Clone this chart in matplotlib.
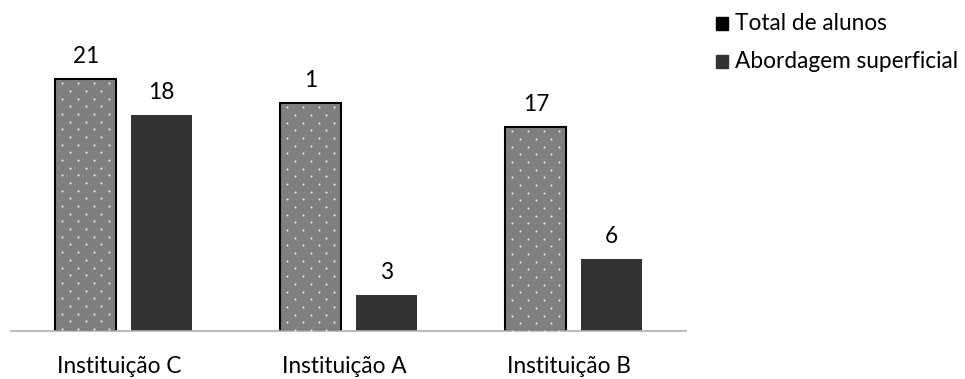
import numpy as np
import matplotlib.pyplot as plt
from matplotlib.patches import Rectangle

plt.rcParams['font.family'] = ['Lato', 'DejaVu Sans']

institutions = ['Instituição C', 'Instituição A', 'Instituição B']
total_alunos = [21, 19, 17]
total_labels = ['21', '1', '17']
abordagem = [18, 3, 6]
abordagem_labels = ['18', '3', '6']

fs = 16.3

fig = plt.figure(figsize=(9.65, 3.79), dpi=100)
ax = fig.add_axes([11/965, 48/379, 675/965, 300/379])

x = np.arange(len(institutions))
w = 0.272
gap = 0.0625
off = (w + gap) / 2

bars_t = ax.bar(x - off, total_alunos, w, color='#7f7f7f', edgecolor='black', linewidth=1.5, zorder=2)
bars_a = ax.bar(x + off, abordagem, w, color='#333333', linewidth=0, zorder=2)

# dotted texture on the total bars (staggered grid of small white dots)
dx, dy = 0.07, 0.64
for b in bars_t:
    x0, h = b.get_x(), b.get_height()
    ys = np.arange(h - 0.35, 0, -dy)
    px, py = [], []
    for k, yy in enumerate(ys):
        start = x0 + 0.03 + (dx / 2 if k % 2 else 0)
        xs = np.arange(start, x0 + w, dx)
        px.extend(xs)
        py.extend([yy] * len(xs))
    sc = ax.scatter(px, py, s=2.2, color='#ececec', linewidths=0, zorder=3)
    sc.set_clip_path(b)

for b, lab in zip(bars_t, total_labels):
    ax.annotate(lab, (b.get_x() + b.get_width() / 2, b.get_height()), xytext=(0, 11.5),
                textcoords='offset points', ha='center', va='baseline', fontsize=fs, color='black')
for b, lab in zip(bars_a, abordagem_labels):
    ax.annotate(lab, (b.get_x() + b.get_width() / 2, b.get_height()), xytext=(0, 11.5),
                textcoords='offset points', ha='center', va='baseline', fontsize=fs, color='black')

for i, name in enumerate(institutions):
    ax.annotate(name, (i - 0.02, 0), xycoords=('data', 'axes fraction'), xytext=(0, -30.5),
                textcoords='offset points', ha='center', va='baseline', fontsize=fs, color='black')

ax.set_xlim(-0.5, 2.5)
ax.set_ylim(0, 25)
ax.set_xticks([])
ax.set_yticks([])
for s in ['top', 'right', 'left']:
    ax.spines[s].set_visible(False)
ax.spines['bottom'].set_color('#b0b0b0')
ax.spines['bottom'].set_linewidth(1.2)

# legend
leg_items = [('Total de alunos', 'black', 30), ('Abordagem superficial', '#333333', 68)]
for text, col, base in leg_items:
    fig.patches.append(Rectangle((716/965, (379 - base)/379), 12/965, 13/379,
                                 transform=fig.transFigure, color=col, figure=fig))
    fig.text(735/965, (379 - base)/379, text, fontsize=fs, va='baseline', ha='left')

fig.savefig('out.png', dpi=100)
